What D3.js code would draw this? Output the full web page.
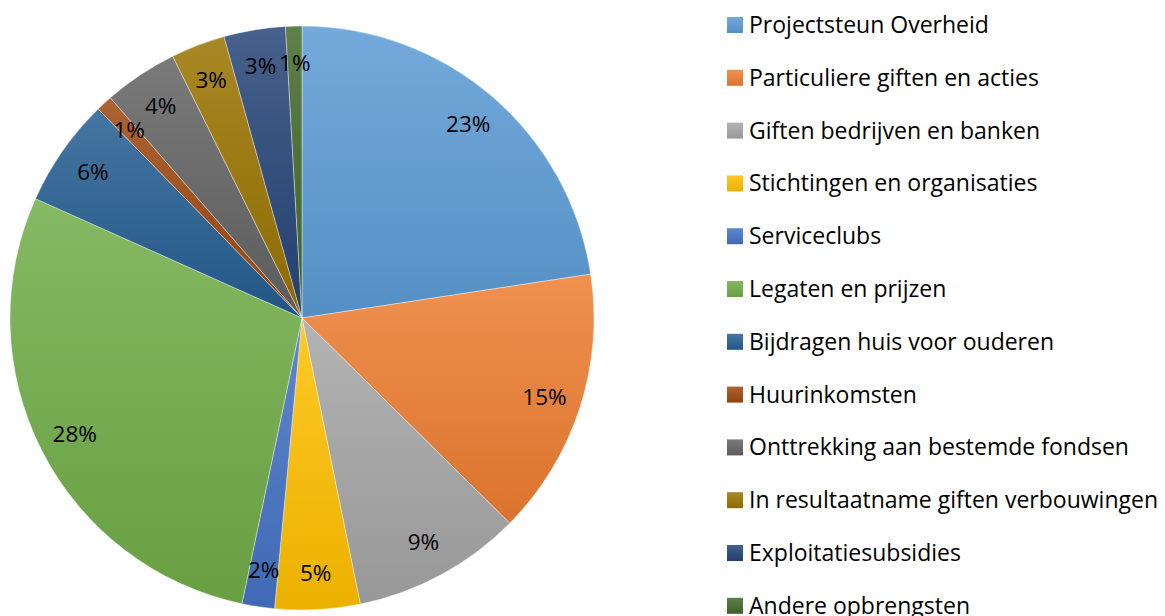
<!DOCTYPE html>
<html>
<head>
<meta charset="utf-8">
<script src="https://cdn.jsdelivr.net/npm/d3@7"></script>
<style>
  body { margin: 0; background: #fff; }
  svg { display: block; font-family: "Open Sans", "Noto Sans", sans-serif; }
</style>
</head>
<body>
<div id="chart"></div>
<script>
// pie chart of income sources (percent of total)
var categories = [
  "Projectsteun Overheid",
  "Particuliere giften en acties",
  "Giften bedrijven en banken",
  "Stichtingen en organisaties",
  "Serviceclubs",
  "Legaten en prijzen",
  "Bijdragen huis voor ouderen",
  "Huurinkomsten",
  "Onttrekking aan bestemde fondsen",
  "In resultaatname giften verbouwingen",
  "Exploitatiesubsidies",
  "Andere opbrengsten"
];
var values = [22.6, 14.8, 9.4, 4.7, 1.8, 28.4, 6.0, 0.9, 4.1, 3.0, 3.4, 0.9];
var colours = ["#5B9BD5", "#ED7D31", "#A5A5A5", "#FFC000", "#4472C4", "#70AD47",
               "#255E91", "#9E480E", "#636363", "#997300", "#264478", "#43682B"];

var width = 1165,
    height = 616;
var cx = 302, cy = 318, radius = 292;

var svg = d3.select("#chart").append("svg")
    .attr("width", width)
    .attr("height", height);

// vertical gradient per slice (bounding box of each shape), lighter on top
var defs = svg.append("defs");
colours.forEach(function(c, i) {
  var g = defs.append("linearGradient")
      .attr("id", "grad" + i)
      .attr("x1", 0).attr("y1", 0)
      .attr("x2", 0).attr("y2", 1);
  g.append("stop").attr("offset", "0%").attr("stop-color", d3.interpolateRgb(c, "#fff")(0.15));
  g.append("stop").attr("offset", "100%").attr("stop-color", d3.interpolateRgb(c, "#000")(0.08));
});

var pie = d3.pie().sort(null).value(function(d) { return d; });
var arc = d3.arc().innerRadius(0).outerRadius(radius);
var labelArc = d3.arc().innerRadius(255).outerRadius(255);
var arcs = pie(values);

var g = svg.append("g").attr("transform", "translate(" + cx + "," + cy + ")");

g.selectAll("path")
  .data(arcs)
  .enter().append("path")
  .attr("d", arc)
  .attr("fill", function(d, i) { return "url(#grad" + i + ")"; })
  .attr("stroke", "#fff")
  .attr("stroke-opacity", 0.5)
  .attr("stroke-width", 0.75);

g.selectAll("text")
  .data(arcs)
  .enter().append("text")
  .attr("transform", function(d) { return "translate(" + labelArc.centroid(d) + ")"; })
  .attr("text-anchor", "middle")
  .attr("dy", "0.35em")
  .attr("font-size", 22.5)
  .attr("fill", "#000")
  .text(function(d) { return Math.round(d.value) + "%"; });

// legend
var legend = svg.append("g").attr("transform", "translate(727,0)");
var rows = legend.selectAll("g")
  .data(categories)
  .enter().append("g")
  .attr("transform", function(d, i) { return "translate(0," + (17 + i * 52.8) + ")"; });

rows.append("rect")
  .attr("width", 16).attr("height", 16)
  .attr("fill", function(d, i) { return "url(#grad" + i + ")"; });

rows.append("text")
  .attr("x", 22)
  .attr("y", 8)
  .attr("dy", "0.35em")
  .attr("font-size", 23)
  .attr("fill", "#000")
  .text(function(d) { return d; });
</script>
</body>
</html>
